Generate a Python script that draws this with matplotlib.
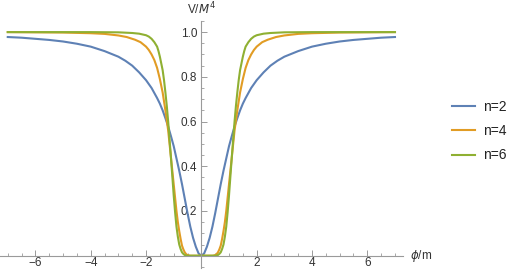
import numpy as np
import matplotlib
matplotlib.use("Agg")
import matplotlib.pyplot as plt
from matplotlib.ticker import MultipleLocator, FixedLocator

# --- data (curves are symmetric in phi) ---
x_n2 = [0, 0.1, 0.2, 0.3, 0.4, 0.5, 0.6, 0.7, 0.8, 0.9, 1.0, 1.1, 1.2, 1.3, 1.4, 1.5, 1.6, 1.8,
        2.0, 2.25, 2.5, 2.75, 3.0, 3.5, 4.0, 4.5, 5.0, 5.5, 6.0, 6.5, 7.0]
v_n2 = [0, 0.01, 0.04, 0.08, 0.13, 0.19, 0.255, 0.32, 0.38, 0.435, 0.49, 0.535, 0.578, 0.615, 0.65, 0.68, 0.705, 0.75,
        0.785, 0.82, 0.85, 0.872, 0.89, 0.915, 0.935, 0.948, 0.958, 0.965, 0.970, 0.975, 0.978]

x_n4 = [0, 0.4, 0.45, 0.5, 0.55, 0.6, 0.65, 0.7, 0.75, 0.8, 0.85, 0.9, 1.0, 1.1, 1.2, 1.3, 1.4, 1.5,
        1.6, 1.7, 1.8, 1.9, 2.0, 2.2, 2.4, 2.7, 3.0, 3.5, 4.0, 5.0, 6.0, 7.0]
v_n4 = [0, 0.0, 0.001, 0.003, 0.007, 0.015, 0.028, 0.045, 0.075, 0.11, 0.15, 0.2, 0.32, 0.44, 0.56, 0.65, 0.73, 0.79,
        0.84, 0.875, 0.9, 0.92, 0.935, 0.955, 0.966, 0.978, 0.985, 0.992, 0.995, 0.998, 0.999, 1.0]

x_n6 = [0, 0.5, 0.55, 0.6, 0.65, 0.7, 0.75, 0.8, 0.85, 0.9, 0.95, 1.0, 1.05, 1.1, 1.15, 1.2, 1.25, 1.3,
        1.35, 1.4, 1.45, 1.5, 1.55, 1.6, 1.7, 1.8, 1.9, 2.0, 2.25, 2.5, 3.0, 4.0, 7.0]
v_n6 = [0, 0.0, 0.001, 0.003, 0.008, 0.015, 0.03, 0.05, 0.085, 0.13, 0.195, 0.27, 0.355, 0.44, 0.52, 0.6, 0.67, 0.73,
        0.785, 0.83, 0.86, 0.89, 0.915, 0.935, 0.955, 0.97, 0.98, 0.986, 0.993, 0.996, 0.999, 1.0, 1.0]

labels = ["n=2", "n=4", "n=6"]
colors = ["#5E81B5", "#E19C24", "#8FB032"]

x_ticks = [-6, -4, -2, 2, 4, 6]
y_ticks = [0.2, 0.4, 0.6, 0.8, 1.0]

plt.rcParams['font.family'] = ['Liberation Sans', 'DejaVu Sans']

fig = plt.figure(figsize=(5.1, 2.7), dpi=100)
ax = fig.add_axes([0.0, 2 / 270, 403 / 510, (268 - 20.7) / 270])

series = [(x_n2, v_n2), (x_n4, v_n4), (x_n6, v_n6)]
handles = []
for (xs, vs), lab, c in zip(series, labels, colors):
    xs = np.asarray(xs, float)
    vs = np.asarray(vs, float)
    xx = np.concatenate([-xs[::-1], xs[1:]])
    vv = np.concatenate([vs[::-1], vs[1:]])
    h, = ax.plot(xx, vv, color=c, lw=1.5, label=lab, solid_joinstyle='round')
    handles.append(h)

ax.set_xlim(-7.28, 7.29)
ax.set_ylim(-0.055, 1.051)

for s in ['top', 'right']:
    ax.spines[s].set_visible(False)
ax.spines['left'].set_position(('data', 0))
ax.spines['bottom'].set_position(('data', 0))
for s in ['left', 'bottom']:
    ax.spines[s].set_color('#9a9a9a')
    ax.spines[s].set_linewidth(0.8)

ax.xaxis.set_major_locator(FixedLocator(x_ticks))
ax.yaxis.set_major_locator(FixedLocator(y_ticks))
ax.xaxis.set_minor_locator(MultipleLocator(0.5))
ax.yaxis.set_minor_locator(MultipleLocator(0.05))
ax.set_xticklabels([f"{t:d}".replace('-', '\u2212') for t in x_ticks])
ax.set_yticklabels([f"{t:.1f}" for t in y_ticks])
ax.tick_params(axis='both', which='major', direction='in', length=4, width=0.7,
               color='#9a9a9a', labelsize=8.5, labelcolor='#333333', pad=3)
ax.tick_params(axis='x', which='major', pad=1.2)
ax.tick_params(axis='both', which='minor', direction='in', length=2, width=0.6,
               color='#9a9a9a')
ax.patch.set_alpha(0)

fig.text(201 / 510, 1 - 9 / 270, r"V/$M^4$", ha='center', va='center',
         fontsize=8.5, color='#333333')
fig.text(410 / 510, 1 - 256 / 270, r"$\phi$/m", ha='left', va='center',
         fontsize=8.5, color='#333333')

fig.legend(handles=handles, labels=labels, loc='center left',
           bbox_to_anchor=(446 / 510, 1 - 131 / 270), frameon=False,
           borderaxespad=0, borderpad=0.4,
           handlelength=1.7, handletextpad=0.6, labelspacing=0.75,
           fontsize=10, labelcolor='#222222')

fig.savefig("out.png", dpi=100)
